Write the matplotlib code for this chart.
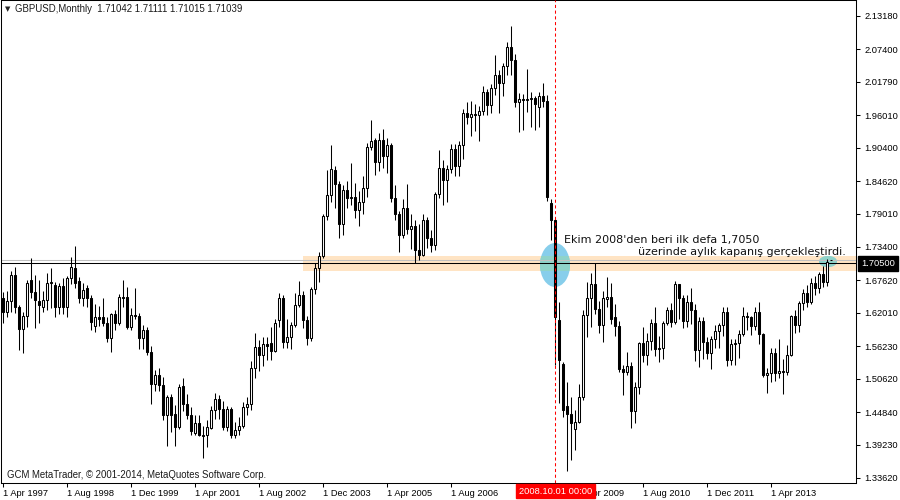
import matplotlib
matplotlib.use("Agg")
import matplotlib.pyplot as plt
from matplotlib.patches import Rectangle, Ellipse
from matplotlib.transforms import blended_transform_factory
import numpy as np

# ---------------- data (monthly GBPUSD, Apr 1997 .. Jul 2014) ----------------
opens = [
    1.645, 1.622, 1.640, 1.685, 1.630, 1.592, 1.614, 1.676, 1.656,
    1.640, 1.630, 1.642, 1.671, 1.668, 1.629, 1.666, 1.630, 1.680, 1.697, 1.675, 1.645,
    1.663, 1.645, 1.597, 1.612, 1.612, 1.603, 1.577, 1.617, 1.603, 1.647, 1.647, 1.596,
    1.616, 1.614, 1.577, 1.590, 1.553, 1.498, 1.513, 1.495, 1.443, 1.475, 1.445, 1.423,
    1.494, 1.462, 1.443, 1.412, 1.430, 1.407, 1.409, 1.421, 1.452, 1.472, 1.455, 1.424,
    1.455, 1.410, 1.418, 1.425, 1.457, 1.462, 1.524, 1.561, 1.548, 1.566, 1.567, 1.554,
    1.607, 1.645, 1.570, 1.578, 1.599, 1.633, 1.651, 1.608, 1.577, 1.661, 1.697, 1.718,
    1.786, 1.822, 1.866, 1.841, 1.773, 1.832, 1.817, 1.819, 1.796, 1.810, 1.834, 1.906,
    1.918, 1.880, 1.918, 1.890, 1.908, 1.817, 1.790, 1.754, 1.801, 1.764, 1.770, 1.728,
    1.719, 1.779, 1.748, 1.737, 1.824, 1.869, 1.848, 1.868, 1.902, 1.872, 1.908, 1.964,
    1.957, 1.962, 1.961, 1.967, 2.000, 1.978, 2.007, 2.030, 2.016, 2.045, 2.078, 2.056,
    1.983, 1.988, 1.986, 1.988, 1.990, 1.974, 1.993, 1.985, 1.809, 1.780, 1.607, 1.532,
    1.460, 1.446, 1.420, 1.432, 1.475, 1.616, 1.645, 1.670, 1.627, 1.599, 1.643, 1.647,
    1.613, 1.597, 1.523, 1.518, 1.528, 1.450, 1.492, 1.568, 1.548, 1.572, 1.602, 1.557,
    1.560, 1.602, 1.625, 1.604, 1.670, 1.645, 1.605, 1.639, 1.625, 1.556, 1.605, 1.570,
    1.551, 1.574, 1.589, 1.599, 1.622, 1.538, 1.566, 1.568, 1.584, 1.614, 1.612, 1.597,
    1.622, 1.583, 1.512, 1.517, 1.550, 1.516, 1.519, 1.518, 1.547, 1.614, 1.599, 1.636,
    1.654, 1.639, 1.671, 1.662, 1.686, 1.673, 1.71042,
]
highs = [
    1.655, 1.657, 1.692, 1.699, 1.633, 1.622, 1.676, 1.714, 1.685,
    1.676, 1.657, 1.688, 1.697, 1.673, 1.672, 1.679, 1.684, 1.716, 1.735, 1.682, 1.671,
    1.667, 1.650, 1.635, 1.632, 1.645, 1.612, 1.620, 1.625, 1.652, 1.677, 1.665, 1.628,
    1.662, 1.620, 1.598, 1.596, 1.563, 1.521, 1.525, 1.510, 1.478, 1.480, 1.461, 1.497,
    1.508, 1.480, 1.458, 1.443, 1.443, 1.425, 1.435, 1.460, 1.482, 1.478, 1.468, 1.460,
    1.458, 1.432, 1.440, 1.466, 1.475, 1.537, 1.585, 1.573, 1.578, 1.578, 1.595, 1.610,
    1.654, 1.651, 1.609, 1.604, 1.654, 1.675, 1.657, 1.614, 1.665, 1.705, 1.725, 1.790,
    1.865, 1.908, 1.873, 1.846, 1.840, 1.846, 1.878, 1.843, 1.830, 1.855, 1.912, 1.952,
    1.920, 1.930, 1.936, 1.920, 1.912, 1.840, 1.795, 1.815, 1.842, 1.790, 1.780, 1.772,
    1.790, 1.785, 1.762, 1.828, 1.900, 1.883, 1.875, 1.910, 1.910, 1.915, 1.970, 1.983,
    1.985, 1.980, 1.976, 2.010, 2.005, 2.014, 2.064, 2.038, 2.050, 2.087, 2.113, 2.065,
    1.998, 1.996, 2.039, 2.000, 1.993, 2.000, 2.015, 1.995, 1.815, 1.782, 1.639, 1.535,
    1.500, 1.475, 1.452, 1.498, 1.625, 1.673, 1.688, 1.705, 1.640, 1.658, 1.682, 1.672,
    1.635, 1.605, 1.530, 1.553, 1.535, 1.500, 1.570, 1.595, 1.585, 1.610, 1.630, 1.580,
    1.605, 1.630, 1.637, 1.675, 1.670, 1.650, 1.650, 1.662, 1.635, 1.612, 1.613, 1.578,
    1.580, 1.598, 1.603, 1.630, 1.630, 1.575, 1.575, 1.590, 1.630, 1.621, 1.615, 1.630,
    1.638, 1.585, 1.524, 1.560, 1.560, 1.575, 1.540, 1.565, 1.616, 1.625, 1.640, 1.660,
    1.668, 1.680, 1.683, 1.690, 1.700, 1.712, 1.71111,
]
lows = [
    1.602, 1.612, 1.622, 1.619, 1.555, 1.550, 1.596, 1.645, 1.593,
    1.602, 1.622, 1.624, 1.628, 1.613, 1.618, 1.618, 1.613, 1.669, 1.663, 1.636, 1.631,
    1.630, 1.590, 1.587, 1.597, 1.597, 1.570, 1.552, 1.590, 1.598, 1.630, 1.592, 1.590,
    1.610, 1.558, 1.558, 1.547, 1.463, 1.485, 1.486, 1.436, 1.391, 1.414, 1.391, 1.420,
    1.450, 1.437, 1.409, 1.409, 1.407, 1.369, 1.389, 1.420, 1.437, 1.437, 1.418, 1.417,
    1.405, 1.404, 1.409, 1.422, 1.443, 1.452, 1.508, 1.520, 1.528, 1.538, 1.538, 1.552,
    1.596, 1.559, 1.560, 1.558, 1.595, 1.630, 1.593, 1.564, 1.572, 1.653, 1.673, 1.715,
    1.780, 1.811, 1.800, 1.748, 1.754, 1.800, 1.805, 1.783, 1.769, 1.790, 1.820, 1.900,
    1.857, 1.864, 1.870, 1.860, 1.810, 1.780, 1.725, 1.748, 1.755, 1.730, 1.705, 1.711,
    1.718, 1.731, 1.725, 1.728, 1.818, 1.806, 1.811, 1.860, 1.855, 1.855, 1.885, 1.945,
    1.924, 1.933, 1.915, 1.960, 1.960, 1.964, 1.995, 1.964, 1.993, 2.030, 2.030, 1.975,
    1.931, 1.935, 1.965, 1.940, 1.935, 1.940, 1.975, 1.813, 1.745, 1.530, 1.465, 1.440,
    1.348, 1.366, 1.383, 1.430, 1.470, 1.578, 1.595, 1.617, 1.585, 1.570, 1.630, 1.600,
    1.580, 1.518, 1.478, 1.512, 1.421, 1.430, 1.480, 1.535, 1.530, 1.555, 1.545, 1.535,
    1.540, 1.598, 1.595, 1.600, 1.610, 1.593, 1.595, 1.600, 1.537, 1.527, 1.540, 1.540,
    1.523, 1.560, 1.560, 1.580, 1.528, 1.530, 1.530, 1.542, 1.580, 1.590, 1.582, 1.590,
    1.566, 1.509, 1.481, 1.500, 1.502, 1.508, 1.480, 1.512, 1.545, 1.585, 1.587, 1.625,
    1.629, 1.635, 1.651, 1.654, 1.665, 1.666, 1.71015,
]
closes = [
    1.622, 1.640, 1.685, 1.630, 1.592, 1.614, 1.672, 1.656, 1.642,
    1.633, 1.642, 1.672, 1.673, 1.629, 1.666, 1.630, 1.679, 1.698, 1.672, 1.645, 1.659,
    1.645, 1.604, 1.612, 1.610, 1.603, 1.577, 1.617, 1.603, 1.647, 1.646, 1.596, 1.616,
    1.614, 1.577, 1.591, 1.552, 1.498, 1.513, 1.495, 1.443, 1.475, 1.443, 1.423, 1.492,
    1.462, 1.443, 1.416, 1.430, 1.410, 1.410, 1.423, 1.452, 1.472, 1.455, 1.424, 1.455,
    1.410, 1.418, 1.425, 1.457, 1.462, 1.524, 1.561, 1.548, 1.566, 1.563, 1.554, 1.602,
    1.645, 1.570, 1.578, 1.599, 1.633, 1.651, 1.608, 1.577, 1.661, 1.697, 1.718, 1.786,
    1.822, 1.867, 1.841, 1.773, 1.832, 1.817, 1.819, 1.796, 1.810, 1.834, 1.906, 1.916,
    1.880, 1.918, 1.890, 1.908, 1.817, 1.790, 1.754, 1.801, 1.764, 1.770, 1.728, 1.719,
    1.779, 1.748, 1.737, 1.824, 1.869, 1.848, 1.868, 1.902, 1.872, 1.908, 1.964, 1.957,
    1.962, 1.961, 1.967, 2.000, 1.978, 2.007, 2.030, 2.016, 2.045, 2.078, 2.056, 1.983,
    1.988, 1.986, 1.988, 1.990, 1.980, 1.993, 1.985, 1.820, 1.780, 1.613, 1.538, 1.452,
    1.446, 1.430, 1.432, 1.475, 1.616, 1.645, 1.670, 1.627, 1.599, 1.645, 1.647, 1.610,
    1.597, 1.523, 1.518, 1.528, 1.450, 1.492, 1.568, 1.548, 1.572, 1.602, 1.557, 1.560,
    1.602, 1.625, 1.604, 1.670, 1.645, 1.605, 1.639, 1.625, 1.556, 1.605, 1.570, 1.551,
    1.574, 1.589, 1.599, 1.622, 1.538, 1.566, 1.568, 1.584, 1.614, 1.612, 1.597, 1.622,
    1.583, 1.512, 1.517, 1.550, 1.516, 1.519, 1.518, 1.547, 1.614, 1.599, 1.636, 1.654,
    1.639, 1.671, 1.662, 1.686, 1.673, 1.708, 1.71039,
]

x_tick_pos = [0, 16, 32, 48, 64, 80, 96, 112, 144, 160, 176, 192]
x_tick_labels = ["1 Apr 1997", "1 Aug 1998", "1 Dec 1999", "1 Apr 2001",
                 "1 Aug 2002", "1 Dec 2003", "1 Apr 2005", "1 Aug 2006",
                 "1 Apr 2009", "1 Aug 2010", "1 Dec 2011", "1 Apr 2013"]
y_tick_vals = [2.13180, 2.07400, 2.01790, 1.96010, 1.90400, 1.84620, 1.79010,
               1.73400, 1.67620, 1.62010, 1.56230, 1.50620, 1.44840, 1.39230, 1.33620]
level = 1.7050
bid = 1.71039
event_idx = 138  # Oct 2008
header = "GBPUSD,Monthly  1.71042 1.71111 1.71015 1.71039"
note1 = "Ekim 2008'den beri ilk defa 1,7050"
note2 = "üzerinde aylık kapanış gerçekleştirdi."

# ---------------- figure ----------------
W, H = 900, 500
fig = plt.figure(figsize=(9, 5), dpi=100)
fig.patch.set_facecolor("white")
ax_l, ax_r, ax_t, ax_b = 1, 856, 0, 483
ax = fig.add_axes([ax_l / W, (H - ax_b) / H, (ax_r - ax_l) / W, (ax_b - ax_t) / H])

s = (2.1318 - 1.3362) / 462.0
def py2p(py):
    return 2.1318 - (py - 15.5) * s
def px2x(px):
    return (px - 3) / 4.0

ax.set_xlim(px2x(ax_l), px2x(ax_r))
ax.set_ylim(py2p(ax_b), py2p(ax_t))

o = np.array(opens); h = np.array(highs); l = np.array(lows); c = np.array(closes)
x = np.arange(len(c))
up = c >= o
dn = ~up

# highlight band and ellipses
band = dict(xy=(px2x(303), py2p(271)), width=px2x(857) - px2x(303), height=py2p(256) - py2p(271))
ax.add_patch(Rectangle(band["xy"], band["width"], band["height"],
                       facecolor="#FFE4C4", edgecolor="none", zorder=1))
for (cx, cy, ew, eh) in [(555, 265, 30, 44), (828, 261.5, 18, 11)]:
    e = Ellipse((px2x(cx), py2p(cy)), ew / 4.0, eh * s, facecolor="#87CEEB",
                edgecolor="none", zorder=1.5)
    ax.add_patch(e)
    ov = Rectangle(band["xy"], band["width"], band["height"],
                   facecolor="#8FD3C9", edgecolor="none", zorder=1.6)
    ax.add_patch(ov)
    ov.set_clip_path(e)

# horizontal lines
ax.axhline(bid, color="#C0C0C0", lw=0.75, zorder=2)
ax.axhline(level, color="black", lw=0.75, zorder=2)

# candles
ax.vlines(x, l, h, color="black", lw=0.75, zorder=3)
ax.bar(x[up], (c - o)[up], bottom=o[up], width=0.55, facecolor="white",
       edgecolor="black", linewidth=0.75, zorder=4)
ax.bar(x[dn], (o - c)[dn], bottom=c[dn], width=0.55, facecolor="black",
       edgecolor="black", linewidth=0.75, zorder=4)

# event line
ax.axvline(event_idx, color="#FF0000", lw=0.75, ls=(0, (3, 2.5)), zorder=5)

# annotation
ax.text(px2x(564), py2p(240), note1, ha="left", va="center", fontsize=8,
        family="DejaVu Sans", color="#111111", zorder=6)
ax.text(px2x(638), py2p(252), note2, ha="left", va="center", fontsize=8,
        family="DejaVu Sans", color="#111111", zorder=6)

# header / footer
fnt = ["Liberation Sans", "DejaVu Sans"]
ax.text((5 - ax_l) / (ax_r - ax_l), 1 - (9 - ax_t) / (ax_b - ax_t), "\u25BC", fontsize=5,
        family="DejaVu Sans", ha="left", va="center", transform=ax.transAxes, color="#222222")
ax.text((15 - ax_l) / (ax_r - ax_l), 1 - (9 - ax_t) / (ax_b - ax_t), header, fontsize=6.9,
        family=fnt, ha="left", va="center", transform=ax.transAxes, color="#1a1a1a")
ax.text((7 - ax_l) / (ax_r - ax_l), (ax_b - 475) / (ax_b - ax_t),
        "GCM MetaTrader, \u00A9 2001-2014, MetaQuotes Software Corp.", fontsize=6.9,
        family=fnt, ha="left", va="center", transform=ax.transAxes, color="#1a1a1a")

# axes / ticks
for sp in ax.spines.values():
    sp.set_color("black")
    sp.set_linewidth(0.75)
ax.set_xticks(x_tick_pos)
ax.set_xticklabels(x_tick_labels, fontsize=6.7, family=fnt, ha="left")
ax.tick_params(axis="x", direction="out", length=3, width=0.75, pad=1.5, colors="black")
ax.yaxis.tick_right()
ax.set_yticks(y_tick_vals)
ax.set_yticklabels(["%.5f" % v for v in y_tick_vals], fontsize=6.7, family=fnt)
ax.tick_params(axis="y", direction="out", length=3, width=0.75, pad=3, colors="black")

# highlighted price label
tr_y = blended_transform_factory(ax.transAxes, ax.transData)
ax.text((861 - ax_l) / (ax_r - ax_l), level, "%.5f" % level, transform=tr_y, fontsize=6.7,
        family=fnt, color="white", ha="left", va="center", clip_on=False, zorder=10,
        bbox=dict(boxstyle="square,pad=0.35", facecolor="black", edgecolor="black"))

# highlighted date label
tr_x = blended_transform_factory(ax.transData, ax.transAxes)
ax.text(event_idx + 0.1, -(491 - ax_b) / (ax_b - ax_t), "2008.10.01 00:00", transform=tr_x,
        fontsize=6.7, family=fnt, color="white", ha="center", va="center", clip_on=False,
        zorder=10, bbox=dict(boxstyle="square,pad=0.3", facecolor="#FF0000", edgecolor="#FF0000"))

fig.savefig("out.png", dpi=100, facecolor="white")
